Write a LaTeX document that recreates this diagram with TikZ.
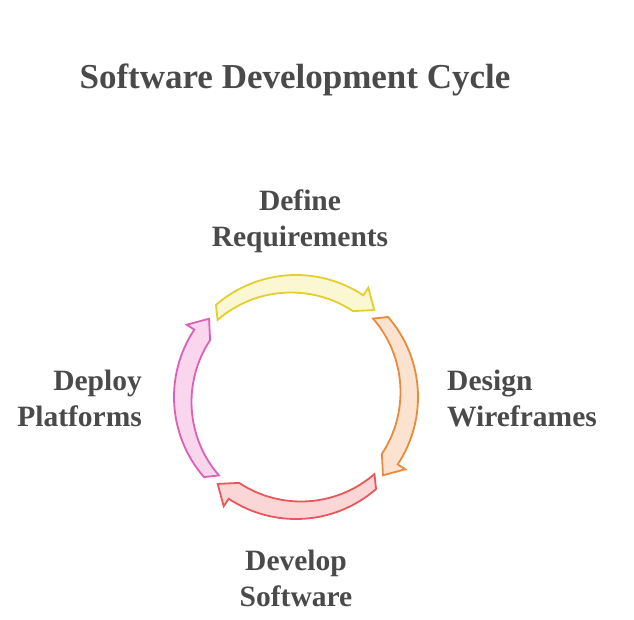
\documentclass[tikz,border=0pt]{standalone}
\usepackage{fontspec}
\setmainfont{Liberation Serif}
\definecolor{txt}{HTML}{4A4A4A}
\definecolor{ystroke}{HTML}{E2CF2E}
\definecolor{yfill}{HTML}{FBF7D2}
\definecolor{ostroke}{HTML}{E98A3C}
\definecolor{ofill}{HTML}{FBE3D0}
\definecolor{rstroke}{HTML}{E8585A}
\definecolor{rfill}{HTML}{FBD6D6}
\definecolor{pstroke}{HTML}{DF5FB6}
\definecolor{pfill}{HTML}{F9D6EE}
\tikzset{
  lbl/.style={text=txt, font=\fontsize{29.5}{36}\selectfont\bfseries, inner sep=0pt},
  ttl/.style={text=txt, font=\fontsize{35}{42}\selectfont\bfseries, inner sep=0pt},
  fatarrow/.style={line width=1.8pt, line join=miter},
}
% #1 start angle, #2 tip angle (clockwise, #1>#2), #3 stroke, #4 fill
\newcommand{\cycarrow}[4]{%
  \pgfmathsetmacro{\aH}{#2+8.5}%
  \draw[fatarrow, draw=#3, fill=#4]
    (#1:122pt) arc[start angle=#1, end angle=\aH, radius=122pt]
    -- (\aH:131pt) -- (#2:117pt) -- (\aH:103pt)
    arc[start angle=\aH, end angle=#1, radius=112pt] -- cycle;
}
\begin{document}
\begin{tikzpicture}[x=1pt,y=-1pt]
\useasboundingbox (0,0) rectangle (634,619);
\node[ttl] (title) at (295,80) {Software Development Cycle};
\node[lbl, align=center] (define) at (300,221) {Define\\Requirements};
\node[lbl, align=left, anchor=west] (design) at (447,398) {Design\\Wireframes};
\node[lbl, align=center] (develop) at (296,578) {Develop\\Software};
\node[lbl, align=right, anchor=east] (deploy) at (142,398) {Deploy\\Platforms};
\coordinate (c) at (296,397);
\begin{scope}[shift={(c)}, y=1pt]
\cycarrow{131}{48}{ystroke}{yfill}
\cycarrow{41}{-42}{ostroke}{ofill}
\cycarrow{-49}{-132}{rstroke}{rfill}
\cycarrow{-139}{-222}{pstroke}{pfill}
\end{scope}
\end{tikzpicture}
\end{document}
